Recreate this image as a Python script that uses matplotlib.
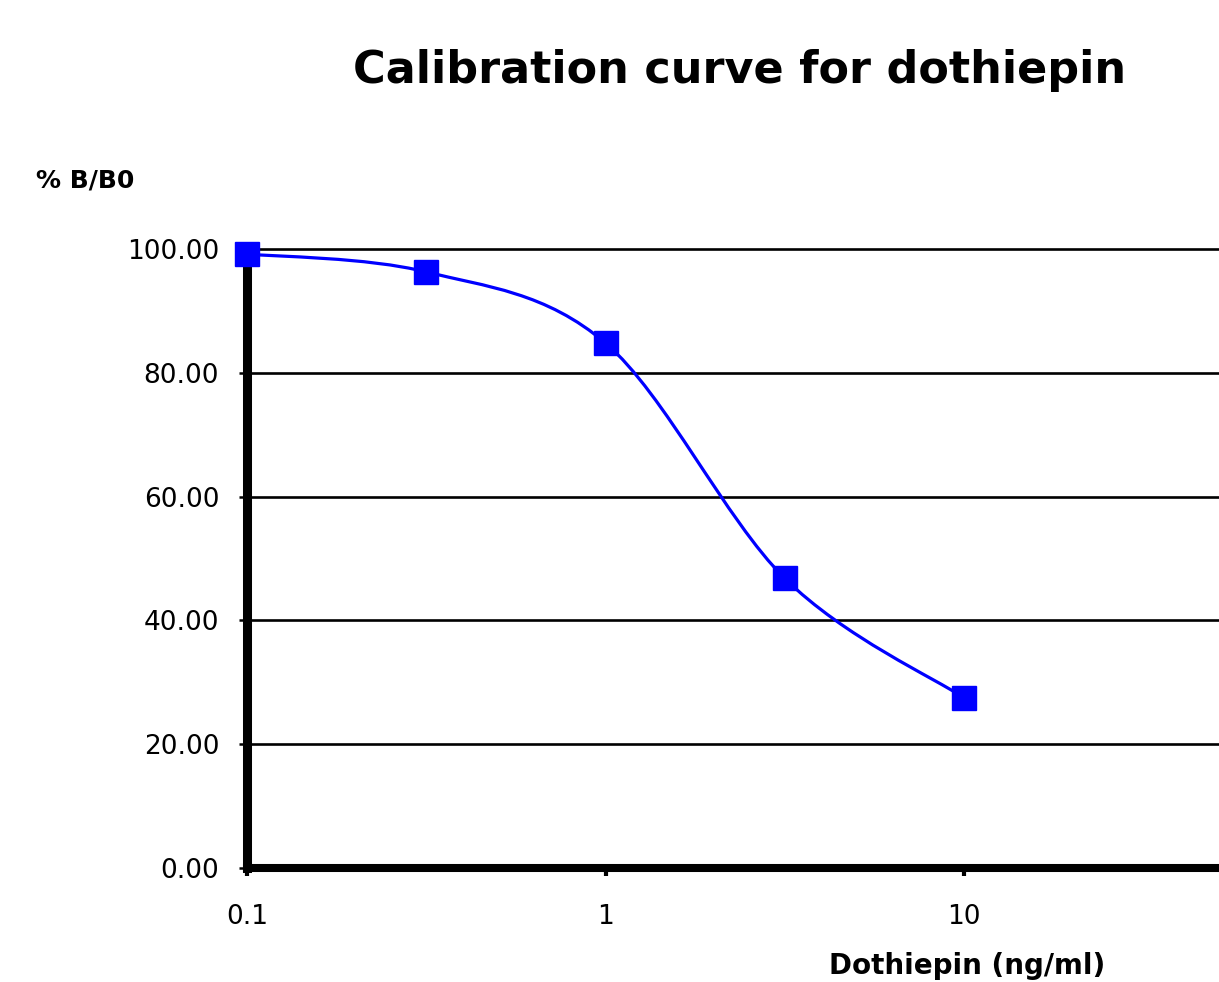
import numpy as np
import matplotlib
matplotlib.use("Agg")
import matplotlib.pyplot as plt
from matplotlib.path import Path
from matplotlib.patches import PathPatch

# calibration points
conc = [0.1, 0.316, 1.0, 3.16, 10.0]        # ng/ml
bb0 = [99.2, 96.3, 84.8, 46.8, 27.5]         # % B/B0
yticks = [0, 20, 40, 60, 80, 100]
xticks = [0.1, 1, 10]
xticklabels = ["0.1", "1", "10"]

plt.rcParams['font.family'] = ['DejaVu Sans']

fig = plt.figure(figsize=(12.19, 9.82), dpi=100)
ax = fig.add_axes([247/1219, 1-868/982, 1-247/1219, (868-249)/982])

ax.set_xscale('log')
ax.set_xlim(0.1, 51.4)
ax.set_ylim(0, 100)

# smoothed line (Excel style bezier in log-x space)
u = np.log10(conc)
v = np.array(bb0)
pts = np.column_stack([u, v])
verts = [pts[0]]
codes = [Path.MOVETO]
n = len(pts)
for i in range(n-1):
    p0 = pts[i-1] if i > 0 else pts[i]
    p1, p2 = pts[i], pts[i+1]
    p3 = pts[i+2] if i+2 < n else pts[i+1]
    c1 = p1 + (p2 - p0) / 6
    c2 = p2 - (p3 - p1) / 6
    verts += [c1, c2, p2]
    codes += [Path.CURVE4]*3
verts = np.array(verts)
verts[:, 0] = 10**verts[:, 0]
ax.add_patch(PathPatch(Path(verts, codes), fill=False, edgecolor='#0000ff',
                       lw=2.3, zorder=3, clip_on=False))
ax.plot(conc, bb0, ls='none', marker='s', ms=17, color='#0000ff',
        mec='#0000ff', zorder=4, clip_on=False)

for yv in yticks[1:]:
    ax.axhline(yv, color='black', lw=1.9, zorder=1, clip_on=False)

for s in ['top', 'right']:
    ax.spines[s].set_visible(False)
ax.spines['left'].set_linewidth(6.5)
ax.spines['bottom'].set_linewidth(5.8)
ax.spines['left'].set_zorder(2)
ax.spines['bottom'].set_zorder(2)

ax.set_yticks(yticks)
ax.set_yticklabels(["%.2f" % t for t in yticks])
ax.set_xticks(xticks)
ax.set_xticklabels(xticklabels)
ax.minorticks_off()
ax.tick_params(axis='y', length=6, width=1.8, labelsize=19, pad=14)
ax.tick_params(axis='x', length=6, width=3, labelsize=19, pad=20)

fig.text(740/1219, 1-70/982, "Calibration curve for dothiepin", ha='center',
         va='center', fontsize=32, fontweight='bold')
fig.text(36/1219, 1-181/982, "% B/B0", ha='left', va='center',
         fontsize=18, fontweight='bold')
fig.text(1105/1219, 1-966/982, "Dothiepin (ng/ml)", ha='right', va='center',
         fontsize=20, fontweight='bold')

fig.savefig("out.png", dpi=100)
